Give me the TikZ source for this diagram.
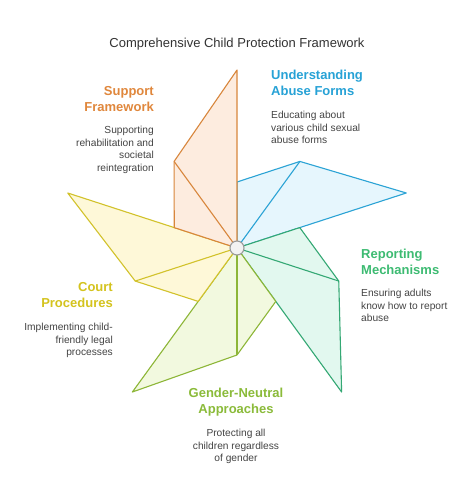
\documentclass[tikz,border=0pt]{standalone}
\usepackage{fontspec}
\setmainfont{Liberation Sans}
\definecolor{bluS}{HTML}{2BA3D5}\definecolor{bluF}{HTML}{E6F6FD}\definecolor{bluT}{HTML}{27A2D6}
\definecolor{grnS}{HTML}{34A874}\definecolor{grnF}{HTML}{E2F8EF}\definecolor{grnT}{HTML}{3DBB72}
\definecolor{limS}{HTML}{8DB637}\definecolor{limF}{HTML}{F2F9DF}\definecolor{limT}{HTML}{8BBB3A}
\definecolor{yelS}{HTML}{D2C22B}\definecolor{yelF}{HTML}{FEF8D8}\definecolor{yelT}{HTML}{D4C31E}
\definecolor{orgS}{HTML}{D8863C}\definecolor{orgF}{HTML}{FDECDF}\definecolor{orgT}{HTML}{E0873C}
\definecolor{txtD}{HTML}{444444}
\tikzset{
  blade/.style={line width=1.1pt, line join=round},
  head/.style={inner sep=0pt, font=\fontsize{13}{16}\selectfont\bfseries},
  desc/.style={inner sep=0pt, text=txtD, font=\fontsize{10.2}{12.5}\selectfont},
}
\begin{document}
\begin{tikzpicture}[x=1pt,y=1pt]
\path[use as bounding box, fill=white] (0,0) rectangle (474,498);
\coordinate (C) at (237,250);
% blades: short (th:66), fold (th-36:107), tip (th-72:178)
\foreach \nm/\th/\sc/\fc in {b/90/bluS/bluF, g/18/grnS/grnF, l/-54/limS/limF, y/-126/yelS/yelF, o/162/orgS/orgF}{
  \coordinate (\nm s) at ([shift={(\th:66)}]C);
  \coordinate (\nm f) at ([shift={(\th-36:107)}]C);
  \coordinate (\nm t) at ([shift={(\th-72:178)}]C);
  \filldraw[blade, draw=\sc, fill=\fc] (C) -- (\nm s) -- (\nm f) -- (\nm t) -- cycle;
  \draw[blade, draw=\sc] (C) -- (\nm f);
}
\node[circle, draw=black!40, fill=black!5, line width=1.1pt, minimum size=14pt, inner sep=0pt] (hub) at (C) {};
% title
\node[inner sep=0pt, text=black!80, font=\fontsize{13}{16}\selectfont, anchor=north] (title) at (237,460) {Comprehensive Child Protection Framework};
% Understanding
\node[head, text=bluT, align=left, anchor=north west] (h1) at (271,428) {Understanding\\Abuse Forms};
\node[desc, align=left, anchor=north west] (d1) at (271,387) {Educating about\\various child sexual\\abuse forms};
% Support
\node[head, text=orgT, align=right, anchor=north east] (h2) at (154,412) {Support\\Framework};
\node[desc, align=right, anchor=north east] (d2) at (154,372) {Supporting\\rehabilitation and\\societal\\reintegration};
% Reporting
\node[head, text=grnT, align=left, anchor=north west] (h3) at (361,249) {Reporting\\Mechanisms};
\node[desc, align=left, anchor=north west] (d3) at (361,209) {Ensuring adults\\know how to report\\abuse};
% Court
\node[head, text=yelT, align=right, anchor=north east] (h4) at (113,216) {Court\\Procedures};
\node[desc, align=right, anchor=north east] (d4) at (113,175) {Implementing child-\\friendly legal\\processes};
% Gender
\node[head, text=limT, align=center, anchor=north] (h5) at (236,110) {Gender-Neutral\\Approaches};
\node[desc, align=center, anchor=north] (d5) at (236,69) {Protecting all\\children regardless\\of gender};
\end{tikzpicture}
\end{document}
